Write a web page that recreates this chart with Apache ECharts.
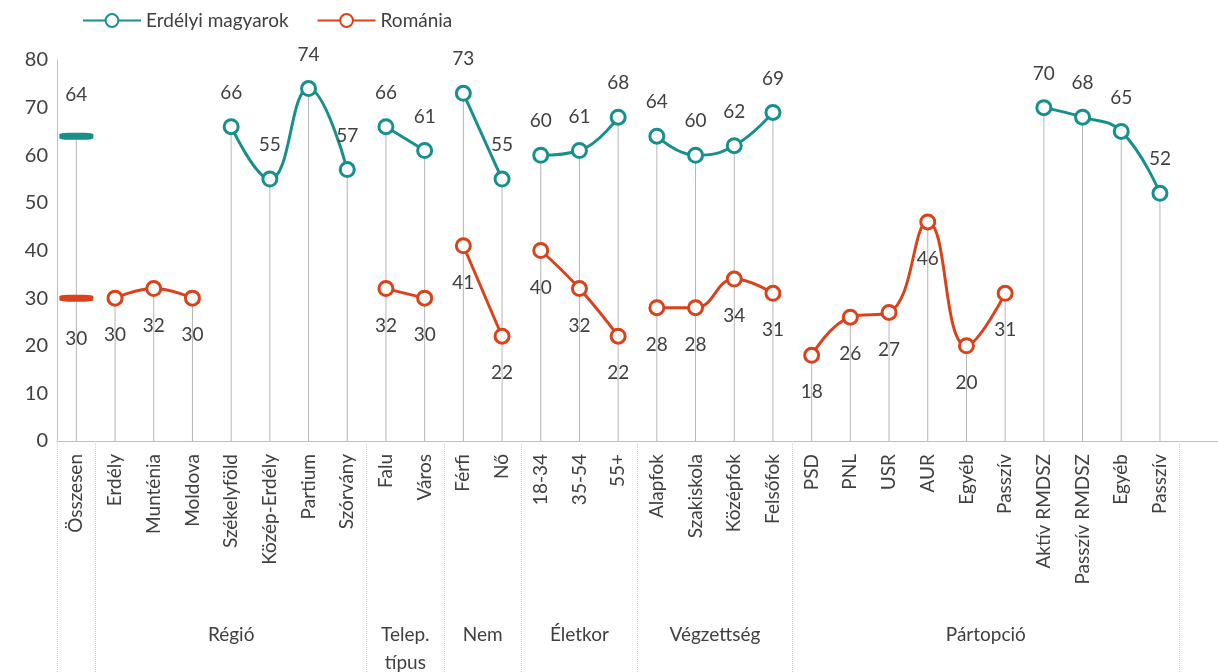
<!DOCTYPE html>
<head>
    <meta charset="utf-8"/>
    <style>
        html,body { height:100%; width:100%; margin:0; padding:0; background:#fff; overflow:hidden; }
    </style>
</head>
<body>

<div id="chart" style="width: 100%;height:100%"></div>

<script src="https://cdn.jsdelivr.net/npm/echarts@6/dist/echarts.min.js"></script>
<script type="text/javascript">

 // kategóriák (az utolsó üres oszlop)
 var categories = ['Összesen','Erdély','Munténia','Moldova','Székelyföld','Közép-Erdély','Partium','Szórvány',
     'Falu','Város','Férfi','Nő','18-34','35-54','55+','Alapfok','Szakiskola','Középfok','Felsőfok',
     'PSD','PNL','USR','AUR','Egyéb','Passzív','Aktív RMDSZ','Passzív RMDSZ','Egyéb','Passzív',''];

 var huValues = [64, null, null, null, 66, 55, 74, 57, 66, 61, 73, 55, 60, 61, 68, 64, 60, 62, 69,
     null, null, null, null, null, null, 70, 68, 65, 52, null];
 var roValues = [30, 30, 32, 30, null, null, null, null, 32, 30, 41, 22, 40, 32, 22, 28, 28, 34, 31,
     18, 26, 27, 46, 20, 31, null, null, null, null, null];

 // csoportok: név, első és utolsó kategória index
 var groupNames = ['', 'Régió', 'Telep.\ntípus', 'Nem', 'Életkor', 'Végzettség', 'Pártopció'];
 var groupStart = [0, 1, 8, 10, 12, 15, 19];
 var groupEnd   = [0, 7, 9, 11, 14, 18, 28];

 var yTicks = [0, 80, 10];

 var teal = '#17908c';
 var red = '#d9421b';
 var txt = '#404040';
 var font = 'Lato';

 // második tengely: fél-kategória lépések
 var halfLabels = [];
 for (var k = 0; k <= categories.length * 2; k++) halfLabels.push('');
 var boundaries = [];
 for (var g = 0; g < groupNames.length; g++) {
     halfLabels[groupStart[g] + groupEnd[g] + 1] = groupNames[g];
     boundaries.push(groupStart[g] * 2);
 }
 boundaries.push((groupEnd[groupEnd.length - 1] + 1) * 2);
 boundaries.push(categories.length * 2);

 // függőleges vonalak
 var dropValues = categories.map(function (c, i) {
     var a = huValues[i], b = roValues[i];
     if (a == null && b == null) return null;
     return Math.max(a == null ? 0 : a, b == null ? 0 : b);
 });

 var series = [{
     type: 'bar',
     name: 'drop',
     data: dropValues,
     barWidth: 1,
     itemStyle: { color: '#b5b5b5' },
     silent: true,
     z: 1
 }];

 function makeLine(name, arr, g, color, pos, dist) {
     return {
         type: 'line',
         name: name,
         data: arr.map(function (v, i) { return (i >= groupStart[g] && i <= groupEnd[g]) ? v : null; }),
         smooth: 0.45,
         symbol: 'circle',
         symbolSize: 14,
         lineStyle: { color: color, width: 3 },
         itemStyle: { color: '#fff', borderColor: color, borderWidth: 3 },
         label: { show: true, position: pos, distance: dist, color: txt, fontSize: 19, fontFamily: font },
         z: 3
     };
 }

 for (var s = 1; s < groupNames.length; s++) {
     series.push(makeLine('Erdélyi magyarok', huValues, s, teal, 'top', 16));
     series.push(makeLine('Románia', roValues, s, red, 'bottom', 19));
 }

 // Összesen: vízszintes jelölők
 function makeDash(name, arr, color, pos) {
     return {
         type: 'scatter',
         name: name,
         data: arr.map(function (v, i) { return i === 0 ? v : null; }),
         symbol: 'roundRect',
         symbolSize: [34, 7],
         itemStyle: { color: color, opacity: 1 },
         label: { show: true, position: pos, distance: 28, color: txt, fontSize: 19, fontFamily: font },
         z: 4
     };
 }
 series.push(makeDash('hu-total', huValues, teal, 'top'));
 series.push(makeDash('ro-total', roValues, red, 'bottom'));

 var myChart = echarts.init(document.getElementById('chart'));
 myChart.setOption({
     animation: false,
     textStyle: { fontFamily: font },
     legend: {
         data: ['Erdélyi magyarok', 'Románia'],
         left: 77,
         top: 6,
         itemWidth: 58,
         itemHeight: 16,
         itemGap: 28,
         selectedMode: false,
         textStyle: { fontSize: 19, color: txt, fontFamily: font }
     },
     grid: { left: 57, right: 0, top: 60, bottom: 231, containLabel: false, outerBoundsMode: 'none' },
     xAxis: [{
         type: 'category',
         data: categories,
         axisLine: { lineStyle: { color: '#bfbfbf' } },
         axisTick: { show: false },
         axisLabel: { interval: 0, rotate: 90, margin: 13, fontSize: 19, color: txt, fontFamily: font }
     }, {
         type: 'category',
         data: halfLabels,
         boundaryGap: false,
         position: 'bottom',
         axisLine: { show: false },
         axisTick: {
             show: true,
             length: 231,
             interval: function (i) { return boundaries.indexOf(i) >= 0; },
             lineStyle: { color: '#cfcfcf', type: 'dotted' }
         },
         axisLabel: { interval: 0, margin: 180, fontSize: 19, lineHeight: 28, color: txt, fontFamily: font }
     }],
     yAxis: {
         type: 'value',
         min: yTicks[0],
         max: yTicks[1],
         interval: yTicks[2],
         axisLine: { show: true, lineStyle: { color: '#bfbfbf' } },
         axisTick: { show: false },
         splitLine: { show: false },
         axisLabel: { fontSize: 20, margin: 9, color: txt, fontFamily: font }
     },
     series: series
 });
</script>
</body>
